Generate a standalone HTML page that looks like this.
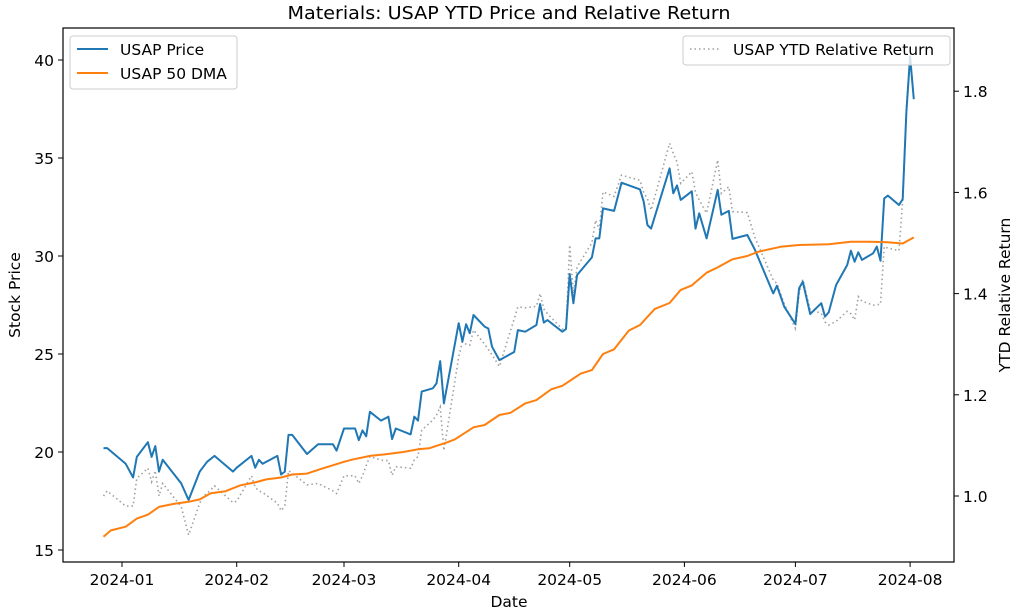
<!DOCTYPE html>
<html><head><meta charset="utf-8"><style>
body{margin:0;background:#fff;}
svg{display:block;font-family:"DejaVu Sans","Liberation Sans",sans-serif;}
</style></head><body>
<svg id="chart" width="1024" height="616" viewBox="0 0 1024 616" xmlns="http://www.w3.org/2000/svg">
<text x="509" y="19" text-anchor="middle" font-size="18" textLength="443" lengthAdjust="spacingAndGlyphs" fill="#000">Materials: USAP YTD Price and Relative Return</text>
<rect x="63" y="28" width="891" height="534" fill="none" stroke="#000" stroke-width="1.2"/>
<g id="xaxis"></g>
<g id="yaxisL"></g>
<g id="yaxisR"></g>
<g id="series"></g>
<text x="509" y="607" text-anchor="middle" font-size="15.5">Date</text>
<text transform="translate(20,295) rotate(-90)" text-anchor="middle" font-size="15.5">Stock Price</text>
<text transform="translate(1010,295) rotate(-90)" text-anchor="middle" font-size="15.5">YTD Relative Return</text>
<g>
<rect x="70" y="36" width="167" height="53" rx="3" fill="#fff" fill-opacity="0.8" stroke="#ccc"/>
<g><line x1="77" y1="49" x2="108" y2="49" stroke="#1f77b4" stroke-width="2"/><text x="120" y="55" font-size="15.5">USAP Price</text></g>
<g><line x1="77" y1="73" x2="108" y2="73" stroke="#ff7f0e" stroke-width="2"/><text x="120" y="79" font-size="15.5">USAP 50 DMA</text></g>
</g>
<g>
<rect x="683" y="36" width="267" height="29" rx="3" fill="#fff" fill-opacity="0.8" stroke="#ccc"/>
<g><line x1="690" y1="49" x2="721" y2="49" stroke="#a0a0a0" stroke-width="1.5" stroke-dasharray="1.5,3"/><text x="733" y="55" font-size="15.5">USAP YTD Relative Return</text></g>
</g>
</svg>
<script>
const priceDates=["2023-12-27","2023-12-28","2024-01-02","2024-01-04","2024-01-05","2024-01-08","2024-01-09","2024-01-10","2024-01-11","2024-01-12","2024-01-17","2024-01-19","2024-01-22","2024-01-23","2024-01-24","2024-01-26","2024-01-31","2024-02-01","2024-02-05","2024-02-06","2024-02-07","2024-02-08","2024-02-12","2024-02-13","2024-02-14","2024-02-15","2024-02-16","2024-02-20","2024-02-23","2024-02-27","2024-02-28","2024-03-01","2024-03-04","2024-03-05","2024-03-06","2024-03-07","2024-03-08","2024-03-11","2024-03-13","2024-03-14","2024-03-15","2024-03-19","2024-03-20","2024-03-21","2024-03-22","2024-03-25","2024-03-26","2024-03-27","2024-03-28","2024-04-01","2024-04-02","2024-04-03","2024-04-04","2024-04-05","2024-04-08","2024-04-09","2024-04-10","2024-04-12","2024-04-16","2024-04-17","2024-04-19","2024-04-22","2024-04-23","2024-04-24","2024-04-25","2024-04-29","2024-04-30","2024-05-01","2024-05-02","2024-05-03","2024-05-07","2024-05-08","2024-05-09","2024-05-10","2024-05-13","2024-05-15","2024-05-20","2024-05-21","2024-05-22","2024-05-23","2024-05-28","2024-05-29","2024-05-30","2024-05-31","2024-06-03","2024-06-04","2024-06-05","2024-06-07","2024-06-10","2024-06-11","2024-06-13","2024-06-14","2024-06-18","2024-06-20","2024-06-25","2024-06-26","2024-06-28","2024-07-01","2024-07-02","2024-07-03","2024-07-05","2024-07-08","2024-07-09","2024-07-10","2024-07-12","2024-07-15","2024-07-16","2024-07-17","2024-07-18","2024-07-19","2024-07-22","2024-07-23","2024-07-24","2024-07-25","2024-07-26","2024-07-29","2024-07-30","2024-07-31","2024-08-01","2024-08-02"];
const priceValues=[20.2,20.2,19.4,18.7,19.75,20.5,19.75,20.3,19.0,19.6,18.4,17.55,19.0,19.25,19.5,19.8,19.0,19.2,19.8,19.2,19.6,19.4,19.8,18.85,19.0,20.87,20.87,19.9,20.4,20.4,20.07,21.2,21.2,20.6,21.1,20.8,22.05,21.6,21.8,20.66,21.2,20.9,21.8,21.6,23.08,23.25,23.5,24.64,22.48,26.57,25.63,26.52,26.06,26.99,26.4,26.3,25.37,24.69,25.1,26.22,26.14,26.48,27.55,26.6,26.73,26.14,26.27,29.08,27.59,29.03,29.93,30.9,30.9,32.43,32.3,33.74,33.4,32.77,31.58,31.4,34.47,33.2,33.6,32.86,33.3,31.4,32.18,30.9,33.37,32.1,32.3,30.87,31.07,30.34,28.09,28.48,27.41,26.53,28.35,28.69,27.04,27.59,26.91,27.12,28.52,29.54,30.27,29.71,30.19,29.8,30.14,30.48,29.76,32.94,33.08,32.6,32.9,37.36,40.17,38.0];
const relValues=[1.0,1.01,0.98,0.98,1.035,1.055,1.028,1.05,1.0,1.025,0.979,0.923,0.986,1.0,1.005,1.02,0.987,0.99,1.04,1.017,1.01,1.007,0.986,0.971,0.98,1.05,1.045,1.022,1.025,1.01,1.005,1.04,1.04,1.025,1.04,1.06,1.078,1.071,1.07,1.041,1.058,1.055,1.071,1.078,1.13,1.15,1.16,1.176,1.09,1.275,1.305,1.30,1.298,1.328,1.30,1.29,1.279,1.256,1.35,1.374,1.372,1.375,1.40,1.37,1.36,1.33,1.33,1.496,1.40,1.453,1.50,1.545,1.526,1.601,1.592,1.634,1.624,1.60,1.588,1.565,1.697,1.677,1.66,1.618,1.641,1.6,1.585,1.559,1.664,1.598,1.611,1.562,1.56,1.512,1.427,1.42,1.38,1.331,1.40,1.428,1.368,1.361,1.344,1.338,1.345,1.365,1.36,1.348,1.394,1.385,1.377,1.378,1.379,1.493,1.49,1.485,1.585,1.77,1.875,1.786];
const dmaDates=["2023-12-27","2023-12-29","2024-01-02","2024-01-05","2024-01-08","2024-01-11","2024-01-15","2024-01-19","2024-01-22","2024-01-25","2024-01-29","2024-02-02","2024-02-06","2024-02-09","2024-02-13","2024-02-16","2024-02-20","2024-02-24","2024-03-01","2024-03-03","2024-03-08","2024-03-12","2024-03-17","2024-03-21","2024-03-24","2024-03-29","2024-03-31","2024-04-05","2024-04-08","2024-04-12","2024-04-15","2024-04-19","2024-04-22","2024-04-26","2024-04-29","2024-05-04","2024-05-07","2024-05-10","2024-05-13","2024-05-17","2024-05-20","2024-05-24","2024-05-28","2024-05-31","2024-06-03","2024-06-07","2024-06-10","2024-06-14","2024-06-18","2024-06-21","2024-06-27","2024-07-02","2024-07-10","2024-07-16","2024-07-21","2024-07-26","2024-07-30","2024-08-02"];
const dmaValues=[15.68,16.0,16.19,16.6,16.8,17.2,17.35,17.46,17.58,17.9,18.0,18.3,18.45,18.6,18.7,18.85,18.9,19.15,19.5,19.6,19.8,19.88,20.0,20.14,20.19,20.5,20.65,21.26,21.38,21.89,22.0,22.48,22.65,23.2,23.38,24.0,24.18,25.0,25.24,26.2,26.48,27.3,27.6,28.27,28.5,29.15,29.42,29.83,30.0,30.22,30.47,30.56,30.6,30.73,30.73,30.7,30.64,30.95];
const xTickLabels=["2024-01","2024-02","2024-03","2024-04","2024-05","2024-06","2024-07","2024-08"];
const leftTicks=[15,20,25,30,35,40];
const rightTicks=[1.0,1.2,1.4,1.6,1.8];

const NS="http://www.w3.org/2000/svg";
const T0=Date.UTC(2024,0,1);
function xScale(d){const p=d.split("-");const t=Date.UTC(+p[0],+p[1]-1,+p[2]);return 122+3.7*(t-T0)/86400000;}
function yL(v){return 550-(v-15)*19.6;}
function yR(r){return 496-(r-1)*506;}
function mk(tag,attrs,parent){const e=document.createElementNS(NS,tag);for(const k in attrs)e.setAttribute(k,attrs[k]);parent.appendChild(e);return e;}

const xg=document.getElementById("xaxis");
xTickLabels.forEach(l=>{const x=xScale(l+"-01");
 const t=mk("line",{x1:x,x2:x,y1:562,y2:567,stroke:"#000"},xg);
 
 
 const tx=mk("text",{x:x,y:585,"text-anchor":"middle","font-size":"15.5"},xg);tx.textContent=l;
 
 });
const lg=document.getElementById("yaxisL");
leftTicks.forEach(v=>{const y=yL(v);
 const t=mk("line",{x1:58,x2:63,y1:y,y2:y,stroke:"#000"},lg);
 
 
 const tx=mk("text",{x:54,y:y+6,"text-anchor":"end","font-size":"15.5"},lg);tx.textContent=v;
 
 });
const rg=document.getElementById("yaxisR");
rightTicks.forEach(v=>{const y=yR(v);
 const t=mk("line",{x1:954,x2:959,y1:y,y2:y,stroke:"#000"},rg);
 
 
 const tx=mk("text",{x:963,y:y+6,"font-size":"15.5"},rg);tx.textContent=v.toFixed(1);
 
 });

const sg=document.getElementById("series");
function pts(dates,vals,f){return dates.map((d,i)=>xScale(d).toFixed(1)+","+f(vals[i]).toFixed(1)).join(" ");}
const rel=mk("polyline",{points:pts(priceDates,relValues,yR),fill:"none",stroke:"#a0a0a0","stroke-width":"1.6","stroke-dasharray":"1.5,3"},sg);


const pr=mk("polyline",{points:pts(priceDates,priceValues,yL),fill:"none",stroke:"#1f77b4","stroke-width":"2","stroke-linejoin":"round"},sg);


const dm=mk("polyline",{points:pts(dmaDates,dmaValues,yL),fill:"none",stroke:"#ff7f0e","stroke-width":"2","stroke-linejoin":"round"},sg);


</script>
</body></html>
